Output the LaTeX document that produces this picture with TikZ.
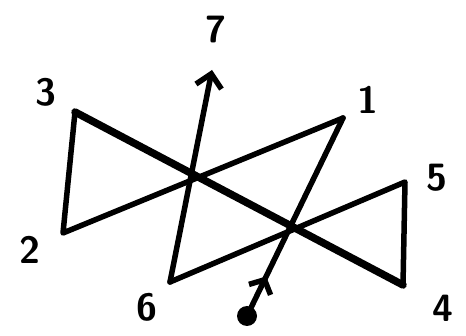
\documentclass[tikz,border=0pt]{standalone}
\usepackage{tikz}
\usetikzlibrary{arrows.meta,decorations.markings}

\begin{document}
\begin{tikzpicture}[x=1pt, y=-1pt, line width=5.5pt, line join=round, line cap=round,
	every node/.style={font=\fontsize{38}{38}\selectfont\sffamily\bfseries}, >={Straight Barb[length=13pt, width=26pt]}]
	\useasboundingbox (0,0) rectangle (466,336);
	% corners of the stroke
	\coordinate (s) at (247,316);
	\coordinate (p1) at (343,118);
	\coordinate (p2) at (63,233);
	\coordinate (p3) at (75,112);
	\coordinate (p4) at (403,285);
	\coordinate (p5) at (405,182);
	\coordinate (p6) at (170,282);
	\coordinate (p7) at (212,70);
	% labels
	\node (l1) at (368,100) {1};
	\node (l2) at (30,250) {2};
	\node (l3) at (46,92) {3};
	\node (l4) at (443,308) {4};
	\node (l5) at (437,178) {5};
	\node (l6) at (147,307) {6};
	\node (l7) at (216,30) {7};
	% the stroke
	\fill (s) circle (10);
	\draw[postaction={decorate}, decoration={markings, mark=at position 0.2 with {\arrow{Straight Barb[length=11pt, width=24pt]}}}] (s) -- (p1);
	\draw (p1) -- (p2) -- (p3) -- (p4) -- (p5) -- (p6);
	\draw[line width=7.5pt] (p3) -- (p4);
	\draw[->] (p6) -- (p7);
\end{tikzpicture}
\end{document}
